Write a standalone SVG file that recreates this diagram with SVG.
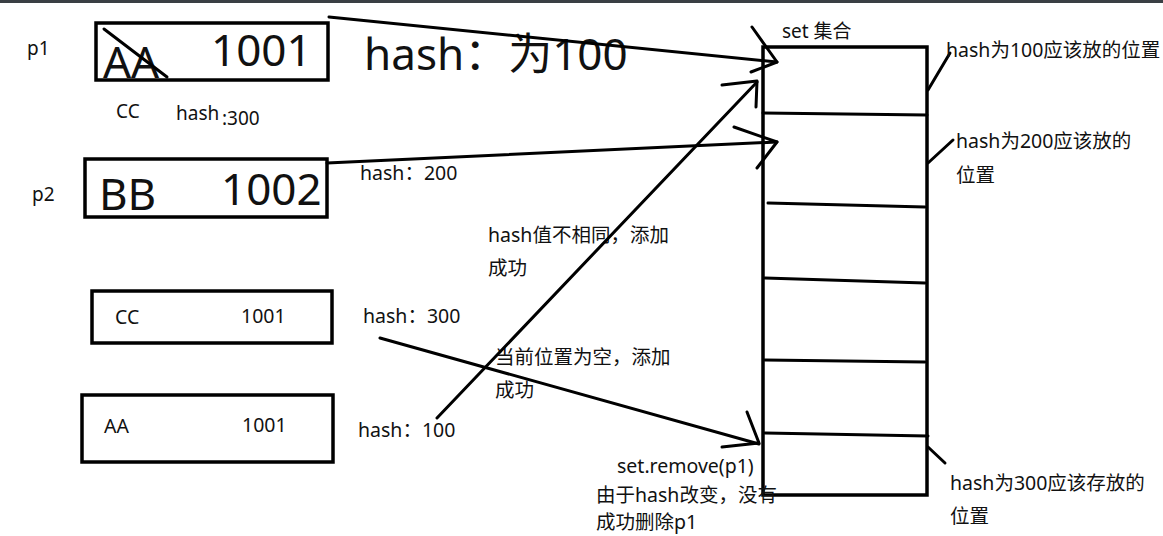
<svg xmlns="http://www.w3.org/2000/svg" width="1163" height="536" viewBox="0 0 1163 536">
<style>
  .ln { fill: none; stroke: #000; stroke-width: 3; stroke-linecap: round; stroke-linejoin: round; }
  .box { fill: none; stroke: #000; stroke-width: 3.5; }
  text { font-family: "Noto Sans", "Noto Sans CJK SC", sans-serif; fill: #111; }
  .t { font-size: 19.5px; }
  .s { font-size: 19px; }
  .big { font-size: 44px; }
</style>
<rect x="0" y="0" width="1163" height="536" fill="#ffffff"/>
<rect x="0" y="0" width="1163" height="3" fill="#3a3f44"/>

<g id="p1">
  <text class="s" x="27" y="55">p1</text>
  <rect class="box" x="96" y="23" width="232" height="57"/>
  <text class="big" x="103" y="78" font-size="45">AA</text>
  <line class="ln" x1="104" y1="29" x2="167" y2="77"/>
  <text class="big" x="211" y="66" font-size="42">1001</text>
  <text class="s" x="116" y="118">CC</text>
  <text class="s" x="176" y="120">hash</text>
  <text class="s" x="222" y="125">:300</text>
</g>

<g id="p2">
  <text class="s" x="32" y="201">p2</text>
  <rect class="box" x="85" y="159" width="242" height="58"/>
  <text class="big" x="99" y="210" font-size="43">BB</text>
  <text class="big" x="221" y="205" font-size="43">1002</text>
</g>

<g id="cc">
  <rect class="box" x="92" y="291" width="240" height="52"/>
  <text class="t" x="115" y="324">CC</text>
  <text class="t" x="241" y="323">1001</text>
</g>

<g id="aa">
  <rect class="box" x="82" y="395" width="251" height="67"/>
  <text class="t" x="104" y="433">AA</text>
  <text class="t" x="242" y="432">1001</text>
</g>

<g id="set">
  <text class="s" x="782" y="38">set 集合</text>
  <rect class="box" x="763" y="47" width="164" height="448"/>
  <line class="ln" x1="763" y1="113" x2="927" y2="115"/>
  <line class="ln" x1="768" y1="203" x2="925" y2="207"/>
  <line class="ln" x1="765" y1="278" x2="925" y2="283"/>
  <line class="ln" x1="765" y1="360" x2="925" y2="362"/>
  <line class="ln" x1="765" y1="433" x2="928" y2="436"/>
  <line class="ln" x1="928" y1="90" x2="950" y2="53"/>
  <line class="ln" x1="928" y1="163" x2="953" y2="140"/>
  <line class="ln" x1="928" y1="447" x2="945" y2="463"/>
  <text class="t" x="946" y="57">hash为100应该放的位置</text>
  <text class="t" x="956" y="148">hash为200应该放的</text>
  <text class="t" x="956" y="182">位置</text>
  <text class="t" x="950" y="490">hash为300应该存放的</text>
  <text class="t" x="950" y="523">位置</text>
</g>

<g id="labels">
  <text class="big" x="364" y="70">hash：为100</text>
  <text class="t" x="360" y="180">hash：200</text>
  <text class="t" x="488" y="242">hash值不相同，添加</text>
  <text class="t" x="488" y="275">成功</text>
  <text class="t" x="363" y="323">hash：300</text>
  <text class="t" x="495" y="364">当前位置为空，添加</text>
  <text class="t" x="495" y="397">成功</text>
  <text class="t" x="358" y="437">hash：100</text>
  <text class="t" x="617" y="473">set.remove(p1)</text>
  <text class="t" x="596" y="502">由于hash改变，没有</text>
  <text class="t" x="596" y="529">成功删除p1</text>
</g>

<g id="connectors">
  <line class="ln" x1="329" y1="17" x2="777" y2="62"/>
  <polyline class="ln" points="752,27 777,62 751,72"/>
  <line class="ln" x1="327" y1="163" x2="777" y2="142"/>
  <polyline class="ln" points="734,127 777,142 757,168"/>
  <line class="ln" x1="437" y1="418" x2="757" y2="82"/>
  <polyline class="ln" points="722,85 757,81 756,107"/>
  <line class="ln" x1="380" y1="338" x2="759" y2="444"/>
  <polyline class="ln" points="747,412 759,443 722,447"/>
</g>
</svg>
